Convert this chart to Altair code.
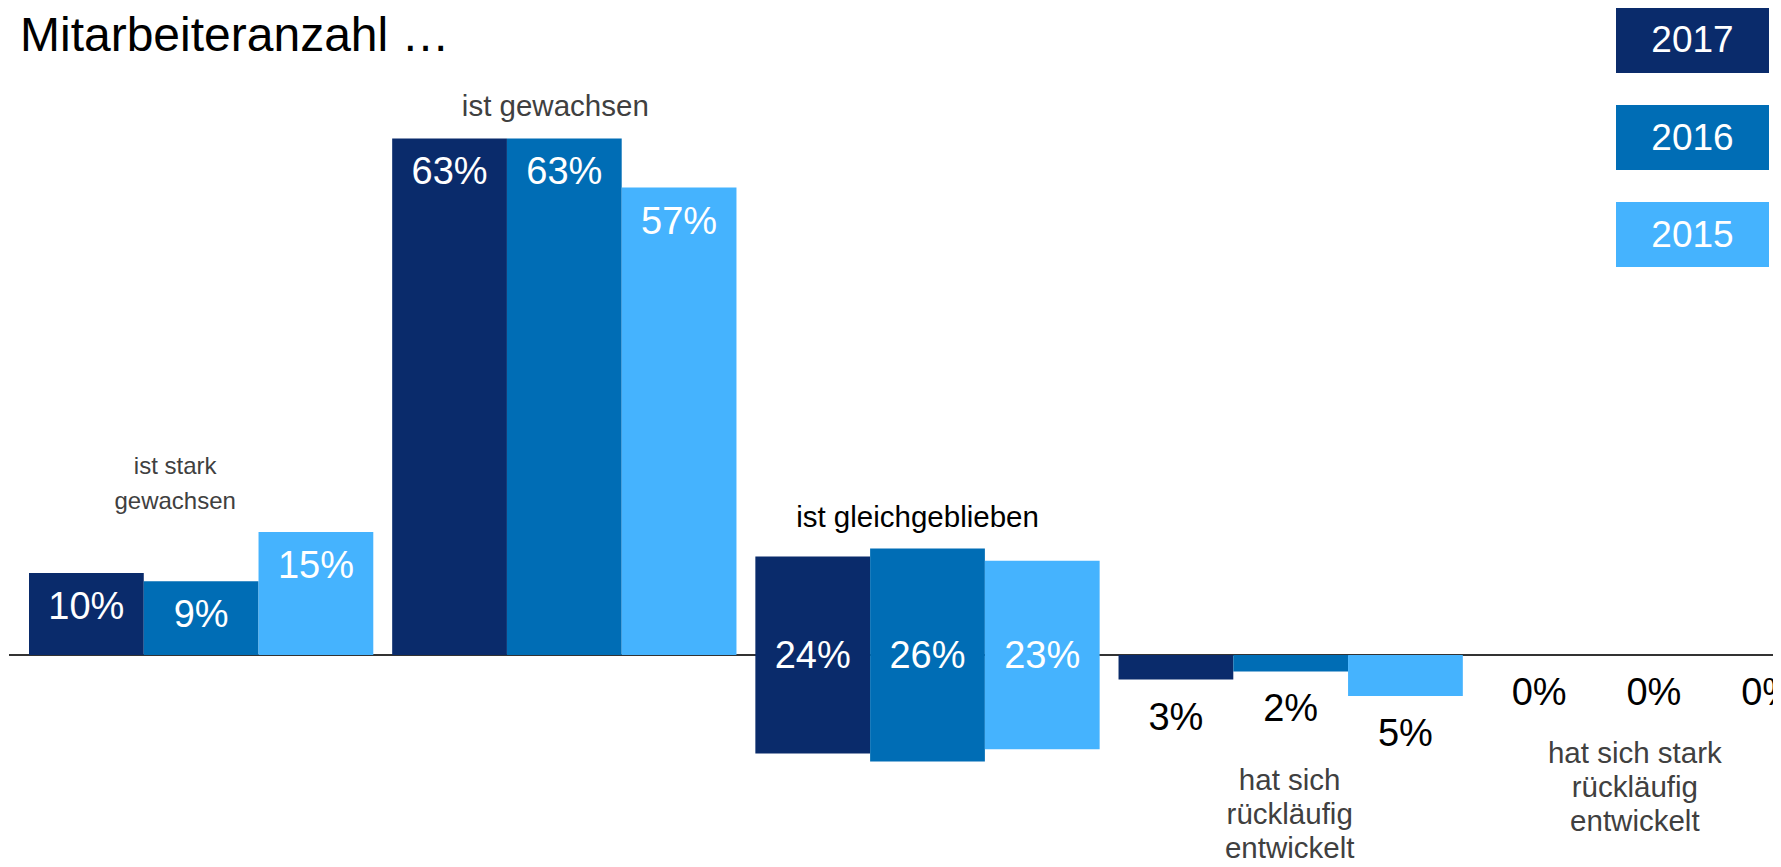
import altair as alt
import pandas as pd

# ---------------- data ----------------
TITLE = "Mitarbeiteranzahl …"
CATEGORIES = [
    "ist stark gewachsen",
    "ist gewachsen",
    "ist gleichgeblieben",
    "hat sich rückläufig entwickelt",
    "hat sich stark rückläufig entwickelt",
]
CATEGORY_LABELS = [
    "ist stark\ngewachsen",
    "ist gewachsen",
    "ist gleichgeblieben",
    "hat sich\nrückläufig\nentwickelt",
    "hat sich stark\nrückläufig\nentwickelt",
]
# direction of the change: 1 = growth, 0 = unchanged, -1 = decline
DIRECTION = [1, 1, 0, -1, -1]
YEARS = ["2017", "2016", "2015"]
V2017 = [10, 63, 24, 3, 0]
V2016 = [9, 63, 26, 2, 0]
V2015 = [15, 57, 23, 5, 0]

# ---------------- styles ----------------
COLORS = ["#0a2b6b", "#006db5", "#45b3fe"]
FONT = "Liberation Sans"
LABEL_NUDGE = [(-26, -65), (-9, -31), (-10, -30), (-1, 85), (-19, 99)]
LABEL_COLORS = ["#404040", "#404040", "#000000", "#404040", "#404040"]
LABEL_SIZES = [24, 29.5, 29.5, 29.5, 29.5]
LABEL_LH = [35, 34, 34, 34, 34]

W, H = 1765, 851

rows = []
series = {"2017": V2017, "2016": V2016, "2015": V2015}
for yr in YEARS:
    for i, cat in enumerate(CATEGORIES):
        v = series[yr][i]
        d = DIRECTION[i]
        if d == 1:
            y0, y1, anchor = 0, v, v
        elif d == 0:
            y0, y1, anchor = -v / 2, v / 2, 0
        else:
            y0, y1, anchor = -v, 0, -v
        rows.append(dict(category=cat, year=yr, value=v, dir=d, y0=y0, y1=y1,
                         anchor=anchor, label=f"{v}%"))
df = pd.DataFrame(rows)

cat_rows = []
for i, cat in enumerate(CATEGORIES):
    vals = [series[yr][i] for yr in YEARS]
    d = DIRECTION[i]
    if d == 1:
        a = max(vals)
    elif d == 0:
        a = max(vals) / 2
    else:
        a = -max(vals)
    cat_rows.append(dict(category=cat, text=CATEGORY_LABELS[i], anchor=a))
cat_df = pd.DataFrame(cat_rows)

xscale = alt.Scale(domain=CATEGORIES, range=[21, 1818], paddingInner=0.052, paddingOuter=0)
k = 8.2
yscale = alt.Scale(domain=[-(H - 647) / k, 647 / k], nice=False, zero=False)
xoff = alt.XOffset("year:N", sort=YEARS, scale=alt.Scale(domain=YEARS, paddingInner=0, paddingOuter=0))
X = alt.X("category:N", sort=CATEGORIES, scale=xscale, axis=None)
color = alt.Color("year:N", scale=alt.Scale(domain=YEARS, range=COLORS), legend=None)

base_line = alt.Chart(pd.DataFrame({"z": [0]})).mark_rule(color="#333333", strokeWidth=2).encode(
    y=alt.Y("z:Q", scale=yscale, axis=None), x=alt.value(1), x2=alt.value(W)
)

bars = alt.Chart(df).mark_bar(strokeWidth=0).encode(
    x=X, xOffset=xoff,
    y=alt.Y("y0:Q", scale=yscale, axis=None), y2="y1:Q",
    color=color,
)

def value_layer(d, dy, col):
    return alt.Chart(df).transform_filter(alt.datum.dir == d).mark_text(
        font=FONT, fontSize=38, baseline="middle", align="center", dy=dy, color=col
    ).encode(
        x=X, xOffset=xoff,
        y=alt.Y("anchor:Q", scale=yscale, axis=None),
        text="label:N",
    )

vals_up = value_layer(1, 35, "white")
vals_mid = value_layer(0, 2, "white")
vals_down = value_layer(-1, 39, "black")

cat_layers = []
for i, cat in enumerate(CATEGORIES):
    dx, dy = LABEL_NUDGE[i]
    cat_layers.append(
        alt.Chart(cat_df).transform_filter(alt.datum.category == cat).mark_text(
            font=FONT, fontSize=LABEL_SIZES[i], baseline="middle", align="center", lineBreak="\n",
            lineHeight=LABEL_LH[i], dx=dx, dy=dy, color=LABEL_COLORS[i]
        ).encode(
            x=X, y=alt.Y("anchor:Q", scale=yscale, axis=None), text="text:N"
        )
    )

title = alt.Chart(pd.DataFrame({"t": [TITLE]})).mark_text(
    font=FONT, fontSize=48, align="left", baseline="alphabetic", color="black"
).encode(x=alt.value(12), y=alt.value(43), text="t:N")

main = alt.layer(base_line, bars, vals_up, vals_mid, vals_down, *cat_layers, title)

leg_df = pd.DataFrame({"year": YEARS})
LY = alt.Y("year:N", sort=YEARS,
           scale=alt.Scale(domain=YEARS, range=[0, 259], paddingInner=0.33, paddingOuter=0),
           axis=None)
leg_rect = alt.Chart(leg_df).mark_rect().encode(
    y=LY, x=alt.value(1608), x2=alt.value(1761), color=color
)
leg_text = alt.Chart(leg_df).mark_text(
    font=FONT, fontSize=37, color="white", align="center", baseline="middle", dy=1
).encode(y=LY, x=alt.value(1684.5), text="year:N")
legend = alt.layer(leg_rect, leg_text)

chart = alt.layer(main, legend).resolve_scale(y="independent").properties(
    width=W, height=H, padding=0, autosize=alt.AutoSizeParams(type="none")
).configure_view(stroke=None)

chart.save("out.html", embed_options={"renderer": "svg", "actions": False})
